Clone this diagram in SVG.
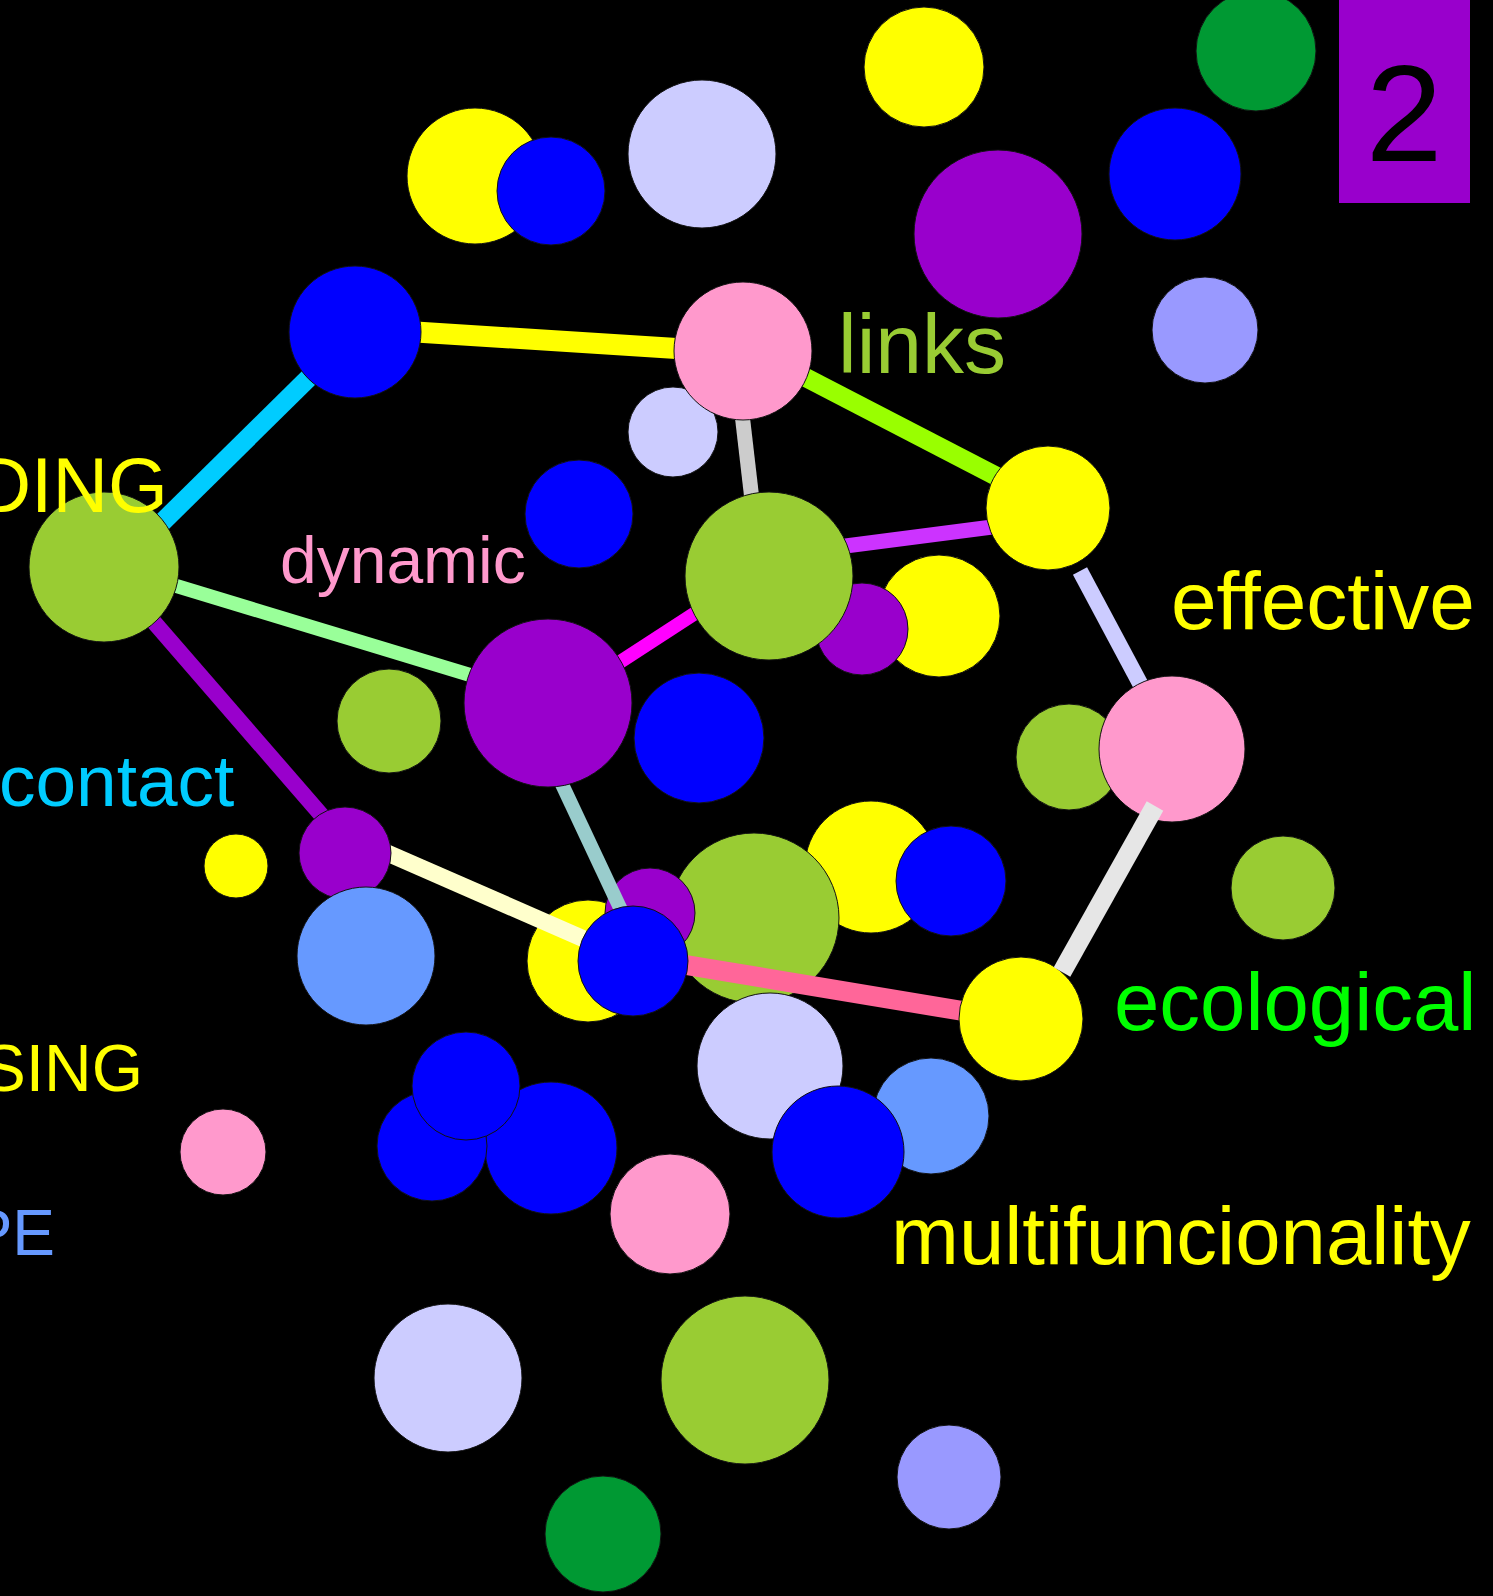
<svg xmlns="http://www.w3.org/2000/svg" width="1493" height="1596" viewBox="0 0 1493 1596">
<style>
circle{stroke:#111;stroke-width:1}
.ol{fill:#99CC33}.pu{fill:#9900CC}.bl{fill:#0000FF}.ye{fill:#FFFF00}.pk{fill:#FF99CC}
.lv{fill:#CCCCFF}.pw{fill:#9999FF}.lb{fill:#6699FF}.gr{fill:#009933}
line{stroke-linecap:butt}
text{font-family:"Liberation Sans",Arial,sans-serif}
</style>
<rect x="0" y="0" width="1493" height="1596" fill="#000"/>
<g id="background">
<g id="c-yellow-top"><circle class="ye" cx="924" cy="67" r="60"/></g>
<g id="c-green-top"><circle class="gr" cx="1256" cy="51" r="60"/></g>
<g id="c-blue-topright"><circle class="bl" cx="1175" cy="174" r="66"/></g>
<g id="c-peri-top"><circle class="pw" cx="1205" cy="330" r="53"/></g>
<g id="c-purple-big"><circle class="pu" cx="998" cy="234" r="84"/></g>
<g id="c-lav-top"><circle class="lv" cx="702" cy="154" r="74"/></g>
<g id="c-yellow-tl"><circle class="ye" cx="475" cy="176" r="68"/></g>
<g id="c-blue-tl"><circle class="bl" cx="551" cy="191" r="54"/></g>
<g id="c-lav-small"><circle class="lv" cx="673" cy="432" r="45"/></g>
<g id="c-blue-mid"><circle class="bl" cx="579" cy="514" r="54"/></g>
<g id="c-yellow-eff"><circle class="ye" cx="939" cy="616" r="61"/></g>
<g id="c-purple-eff"><circle class="pu" cx="862" cy="629" r="46"/></g>
<g id="c-olive-small"><circle class="ol" cx="389" cy="721" r="52"/></g>
<g id="c-blue-dyn"><circle class="bl" cx="699" cy="738" r="65"/></g>
<g id="c-olive-pinkbg"><circle class="ol" cx="1069" cy="757" r="53"/></g>
<g id="c-yellow-tiny"><circle class="ye" cx="236" cy="866" r="32"/></g>
<g id="c-yellow-b1"><circle class="ye" cx="871" cy="867" r="66"/></g>
<g id="c-olive-b1"><circle class="ol" cx="754" cy="918" r="85"/></g>
<g id="c-blue-b1"><circle class="bl" cx="951" cy="881" r="55"/></g>
<g id="c-olive-right"><circle class="ol" cx="1283" cy="888" r="52"/></g>
<g id="c-yellow-hub"><circle class="ye" cx="588" cy="961" r="61"/></g>
<g id="c-purple-hub"><circle class="pu" cx="650" cy="913" r="45"/></g>
<g id="c-lav-b"><circle class="lv" cx="770" cy="1066" r="73"/></g>
<g id="c-lb-b"><circle class="lb" cx="931" cy="1116" r="58"/></g>
<g id="c-blue-b2"><circle class="bl" cx="838" cy="1152" r="66"/></g>
<g id="c-pink-small"><circle class="pk" cx="223" cy="1152" r="43"/></g>
<g id="c-blue-cl2"><circle class="bl" cx="551" cy="1148" r="66"/></g>
<g id="c-blue-cl1"><circle class="bl" cx="432" cy="1146" r="55"/></g>
<g id="c-blue-cl3"><circle class="bl" cx="466" cy="1086" r="54"/></g>
<g id="c-pink-b"><circle class="pk" cx="670" cy="1214" r="60"/></g>
<g id="c-lav-bottom"><circle class="lv" cx="448" cy="1378" r="74"/></g>
<g id="c-olive-bottom"><circle class="ol" cx="745" cy="1380" r="84"/></g>
<g id="c-peri-bottom"><circle class="pw" cx="949" cy="1477" r="52"/></g>
<g id="c-green-bottom"><circle class="gr" cx="603" cy="1534" r="58"/></g>
</g>
<g id="connectors">
<line x1="400" y1="331" x2="700" y2="350" stroke="#FFFF00" stroke-width="21"/>
<line x1="130" y1="554" x2="340" y2="347" stroke="#00CCFF" stroke-width="19"/>
<line x1="743" y1="345" x2="1048" y2="503" stroke="#99FF00" stroke-width="19"/>
<line x1="741" y1="405" x2="752" y2="500" stroke="#CCCCCC" stroke-width="15"/>
<line x1="830" y1="548" x2="1000" y2="526" stroke="#CC33FF" stroke-width="15"/>
<line x1="600" y1="675" x2="720" y2="597" stroke="#FF00FF" stroke-width="14"/>
<line x1="160" y1="581" x2="480" y2="678" stroke="#99FF99" stroke-width="14"/>
<line x1="140" y1="606" x2="330" y2="825" stroke="#9900CC" stroke-width="16"/>
<line x1="385" y1="852" x2="600" y2="946" stroke="#FFFFCC" stroke-width="17"/>
<line x1="560" y1="780" x2="622" y2="912" stroke="#99CCCC" stroke-width="14"/>
<line x1="680" y1="964" x2="975" y2="1013" stroke="#FF6699" stroke-width="20"/>
<line x1="1080" y1="571" x2="1143" y2="689" stroke="#CCCCFF" stroke-width="16"/>
</g>
<g id="nodes">
<g id="n-blue"><circle class="bl" cx="355" cy="332" r="66"/></g>
<g id="n-pink-links"><circle class="pk" cx="743" cy="351" r="69"/></g>
<g id="n-olive-left"><circle class="ol" cx="104" cy="567" r="75"/></g>
<g id="n-yellow-eff"><circle class="ye" cx="1048" cy="508" r="62"/></g>
<g id="n-olive-mid"><circle class="ol" cx="769" cy="576" r="84"/></g>
<g id="n-purple-dyn"><circle class="pu" cx="548" cy="703" r="84"/></g>
<g id="n-purple-contact"><circle class="pu" cx="345" cy="853" r="46"/></g>
<g id="n-blue-hub"><circle class="bl" cx="633" cy="961" r="55"/></g>
<g id="n-pink-right"><circle class="pk" cx="1172" cy="749" r="73"/></g>
<g id="n-yellow-eco"><circle class="ye" cx="1021" cy="1019" r="62"/></g>
</g>
<g id="overlay">
<g id="c-lb-contact"><circle class="lb" cx="366" cy="956" r="69"/></g>
<line x1="1155" y1="806" x2="1062" y2="972" stroke="#E6E6E6" stroke-width="19"/>
</g>
<g id="badge">
<rect x="1339" y="0" width="131" height="203" fill="#9900CC"/>
<text x="1404" y="161" font-size="138" text-anchor="middle" fill="#000">2</text>
</g>
<g id="labels">
<text x="838" y="373" font-size="84" fill="#99CC33">links</text>
<text x="1171" y="629" font-size="82" fill="#FFFF00">effective</text>
<text x="1114" y="1030" font-size="81.5" fill="#00FF00">ecological</text>
<text x="891" y="1264" font-size="81.5" fill="#FFFF00">multifuncionality</text>
<text x="280" y="583" font-size="66" fill="#FF99CC">dynamic</text>
<text x="-1" y="806" font-size="73" fill="#00CCFF">contact</text>
<text x="168" y="512" font-size="77" text-anchor="end" fill="#FFFF00">DING</text>
<text x="143" y="1091" font-size="66" text-anchor="end" fill="#FFFF00">SING</text>
<text x="55" y="1255" font-size="64" text-anchor="end" fill="#6699FF">PE</text>
</g>
</svg>
